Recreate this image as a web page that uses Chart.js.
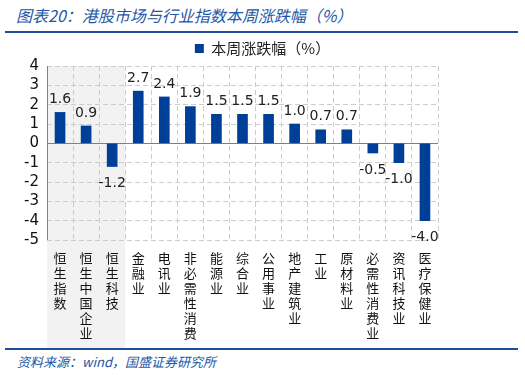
<!DOCTYPE html>
<html>
<head>
<meta charset="utf-8">
<script src="https://cdn.jsdelivr.net/npm/chart.js@4.4.0/dist/chart.umd.min.js"></script>
<style>
    body { margin: 0; width: 525px; height: 375px; background: #fff; position: relative; overflow: hidden; font-family: "Noto Sans CJK SC", sans-serif; }
    .title { position: absolute; left: 16px; top: 3px; font-size: 16px; font-style: italic; color: #2356a6; }
    .rule { position: absolute; left: 5px; width: 513px; height: 2px; background: #1f4e9c; }
    .source { position: absolute; left: 17px; top: 352px; font-size: 13px; font-style: italic; color: #2356a6; }
    #wrap { position: absolute; left: 0; top: 34px; width: 525px; height: 314px; }
</style>
</head>
<body>
<div class="title">图表20：港股市场与行业指数本周涨跌幅（%）</div>
<div class="rule" style="top:31px"></div>
<div id="wrap"><canvas id="chart"></canvas></div>
<div class="rule" style="top:348px"></div>
<div class="source">资料来源：wind，国盛证券研究所</div>
<script>
const categories = ['恒生指数', '恒生中国企业', '恒生科技', '金融业', '电讯业', '非必需性消费', '能源业', '综合业',
    '公用事业', '地产建筑业', '工业', '原材料业', '必需性消费业', '资讯科技业', '医疗保健业'];
const weeklyChange = [1.6, 0.9, -1.2, 2.7, 2.4, 1.9, 1.5, 1.5, 1.5, 1.0, 0.7, 0.7, -0.5, -1.0, -4.0];
const seriesName = '本周涨跌幅（%）';
const shadedCount = 3; // 前三个是恒生指数, 灰色底

const barColor = '#003f98';
const gridColor = '#cccccc';
const axisColor = '#808080';
const numFont = '"DejaVu Sans"';

// 灰色背景, 覆盖前三个指数
const shadePlugin = {
    id: 'shade',
    beforeDraw(chart) {
        const x = chart.scales.x;
        const area = chart.chartArea;
        const w = x.width / categories.length;
        const ctx = chart.ctx;
        ctx.save();
        ctx.fillStyle = '#f2f2f2';
        ctx.fillRect(x.left, area.top, w * shadedCount, chart.height - area.top);
        ctx.restore();
    }
};

// 零线和左轴用实线
const axisPlugin = {
    id: 'axisLines',
    beforeDatasetsDraw(chart) {
        const y = chart.scales.y;
        const area = chart.chartArea;
        const ctx = chart.ctx;
        ctx.save();
        ctx.lineWidth = 1;
        ctx.strokeStyle = axisColor;
        ctx.beginPath();
        const zy = Math.round(y.getPixelForValue(0)) + 0.5;
        ctx.moveTo(area.left, zy);
        ctx.lineTo(area.right, zy);
        const lx = Math.round(area.left) + 0.5;
        ctx.moveTo(lx, area.top);
        ctx.lineTo(lx, area.bottom);
        ctx.stroke();
        ctx.restore();
    }
};

// 数值标签
const valueLabels = {
    id: 'valueLabels',
    afterDatasetsDraw(chart) {
        const ctx = chart.ctx;
        const meta = chart.getDatasetMeta(0);
        ctx.save();
        ctx.font = '14px ' + numFont;
        ctx.fillStyle = '#222';
        ctx.textAlign = 'center';
        meta.data.forEach((bar, i) => {
            const v = weeklyChange[i];
            if (v >= 0) {
                ctx.textBaseline = 'bottom';
                ctx.fillText(v.toFixed(1), bar.x, bar.y - 6);
            } else {
                ctx.textBaseline = 'top';
                ctx.fillText(v.toFixed(1), bar.x, bar.y + 10);
            }
        });
        ctx.restore();
    }
};

new Chart(document.getElementById('chart'), {
    type: 'bar',
    data: {
        labels: categories.map(c => c.split('')),
        datasets: [{
            label: seriesName,
            data: weeklyChange,
            backgroundColor: barColor,
            barThickness: 10
        }]
    },
    options: {
        responsive: true,
        maintainAspectRatio: false,
        animation: false,
        layout: { padding: { left: 0, right: 0, top: 2, bottom: 0 } },
        plugins: {
            legend: {
                position: 'top',
                labels: {
                    boxWidth: 9, boxHeight: 9, color: '#222',
                    font: { size: 15, family: 'Noto Sans CJK SC' },
                    padding: 5
                }
            },
            tooltip: { enabled: false }
        },
        scales: {
            x: {
                afterFit(scale) { scale.height = 108; },
                grid: { offset: true, color: gridColor, lineWidth: 1, drawTicks: false },
                border: { display: false, dash: [5, 3] },
                ticks: {
                    maxRotation: 0, autoSkip: false, padding: 11, color: '#111',
                    font: { size: 13, family: 'Noto Sans CJK SC', lineHeight: 1.15 }
                }
            },
            y: {
                min: -5, max: 4,
                afterFit(scale) { scale.width = 47; },
                grid: { color: gridColor, lineWidth: 1, drawTicks: false },
                border: { display: false, dash: [5, 3] },
                ticks: {
                    stepSize: 1, autoSkip: false, padding: 8, color: '#111',
                    font: { size: 15, family: 'DejaVu Sans' }
                }
            },
            // 右侧留白, 让图例居中于整个画面
            spacer: {
                position: 'right',
                afterFit(scale) { scale.width = 87; },
                grid: { display: false, drawOnChartArea: false },
                border: { display: false },
                ticks: { display: false }
            }
        }
    },
    plugins: [shadePlugin, axisPlugin, valueLabels]
});
</script>
</body>
</html>
